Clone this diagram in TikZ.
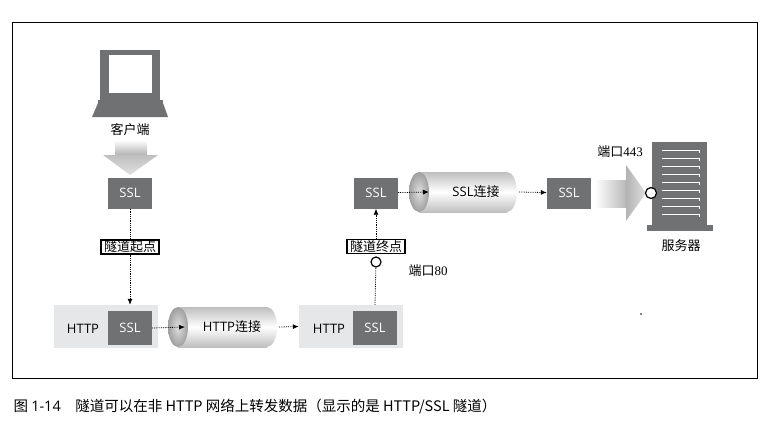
\documentclass[tikz,border=0pt]{standalone}
\usepackage{fontspec}
\setmainfont{Liberation Serif}
\setsansfont{Open Sans}
\newfontfamily\cjk{Noto Sans CJK SC}
\usetikzlibrary{arrows.meta,shapes.geometric}
\definecolor{boxg}{HTML}{707173}
\definecolor{lightg}{HTML}{E6E7E8}
\newcommand{\fz}{\fontsize{13}{15}\selectfont}
\tikzset{
 ssl/.style={fill=boxg,text=white,font=\sffamily\fz,minimum width=44pt,minimum height=31pt,inner sep=0},
 outer/.style={fill=lightg,minimum width=104pt,minimum height=43pt,inner sep=0},
 lab/.style={draw,line width=1.2pt,fill=white,font=\cjk\fz,inner xsep=3pt,inner ysep=1pt},
 dots/.style={densely dotted,line width=0.8pt,-{Latex[length=6pt,width=5pt]}},
 port/.style={circle,draw,line width=1.2pt,fill=white,minimum size=10pt,inner sep=0},
 txt/.style={font=\cjk\fz},
 tube/.style={top color=gray!50,bottom color=gray!50,middle color=white}
}
\begin{document}
\begin{tikzpicture}[x=1pt,y=-1pt]
\useasboundingbox (0,0) rectangle (770,434);
\draw[line width=0.6pt] (12,22) rectangle (757,378);
% monitor
\fill[boxg] (100,50) rectangle (160,100);
\fill[white] (109,55) rectangle (152,93);
\fill[boxg] (98,100) rectangle (163,103);
\fill[boxg] (98,103) -- (163,103) -- (168,117) -- (92,117) -- cycle;
\node[txt] (client) at (130,130) {客户端};
% gray arrow
\shade[top color=white,bottom color=gray!60] (115,140) rectangle (147,155);
\shade[top color=gray!50,bottom color=gray!25] (103,155) -- (158,155) -- (130,175) -- cycle;
\node[ssl] (s1) at (130,193) {SSL};
\node[outer] (h1) at (105.5,326.5) {};
\node[ssl,minimum height=34pt] (s2) at (130,328) {SSL};
\node[font=\sffamily\fz] at (83,329) {HTTP};
\node[lab] (l1) at (130,247) {隧道起点};
\draw[densely dotted,line width=0.8pt] (s1) -- (l1);
\draw[dots] (l1) -- (h1.north -| s2);
% tube 1
\shade[tube] (267,327) ellipse (10 and 20);
\shade[tube] (178,307) rectangle (267,347);
\shade[inner color=gray!25,outer color=gray!75] (178,327) ellipse (10 and 20);
\node[font=\sffamily\fz] (t1) at (232,327) {HTTP\cjk 连接};
\coordinate (t1a) at (185,327);
\coordinate (t1b) at (279,327);
\draw[dots] (s2.east) -- (t1a);
\node[outer] (h2) at (351,326.5) {};
\node[ssl,minimum height=34pt] (s3) at (375,328) {SSL};
\node[font=\sffamily\fz] at (329,329) {HTTP};
\draw[dots] (t1b) -- (h2.west);
\node[ssl] (s4) at (376,193) {SSL};
\node[lab] (l2) at (376,246.5) {隧道终点};
\node[port] (p80) at (376,262) {};
\draw[densely dotted,line width=0.8pt] (h2.north -| s3) -- (p80);
\draw[dots] (l2) -- (s4);
\node[font=\fz] at (428,271) {\cjk 端口\rmfamily 80};
% tube 2
\shade[tube] (507,192) ellipse (10 and 20);
\shade[tube] (419,172) rectangle (507,212);
\shade[inner color=gray!25,outer color=gray!75] (419,192) ellipse (10 and 20);
\node[font=\sffamily\fz] (t2) at (476,192) {SSL\cjk 连接};
\coordinate (t2a) at (429,192);
\coordinate (t2b) at (519,192);
\draw[dots] (s4) -- (t2a);
\node[ssl] (s5) at (569,193) {SSL};
\draw[dots] (t2b) -- (s5);
% right arrow
\shade[left color=white,right color=gray!55] (595,180) rectangle (626,207);
\shade[left color=gray!60,right color=gray!25] (626,165) -- (646,193) -- (626,221) -- cycle;
% server
\fill[boxg] (652,142) rectangle (707,225);
\fill[boxg] (647,225) rectangle (713,231);
\foreach \y in {150,158,...,214} \draw[white,line width=0.9pt] (662,\y) -- (699,\y) -- (699,\y+3);
\node[port,minimum size=11pt] (p443) at (651,193) {};
\node[font=\fz] at (620,152) {\cjk 端口\rmfamily 443};
\node[txt] (srv) at (681,246) {服务器};
\fill (641,314) circle (0.8);
\node[anchor=west,font=\sffamily\fontsize{14.5}{16}\selectfont] at (10,407) {\cjk 图 \sffamily 1-14\quad\cjk 隧道可以在非 HTTP 网络上转发数据（显示的是 HTTP/SSL 隧道）};
\end{tikzpicture}
\end{document}
